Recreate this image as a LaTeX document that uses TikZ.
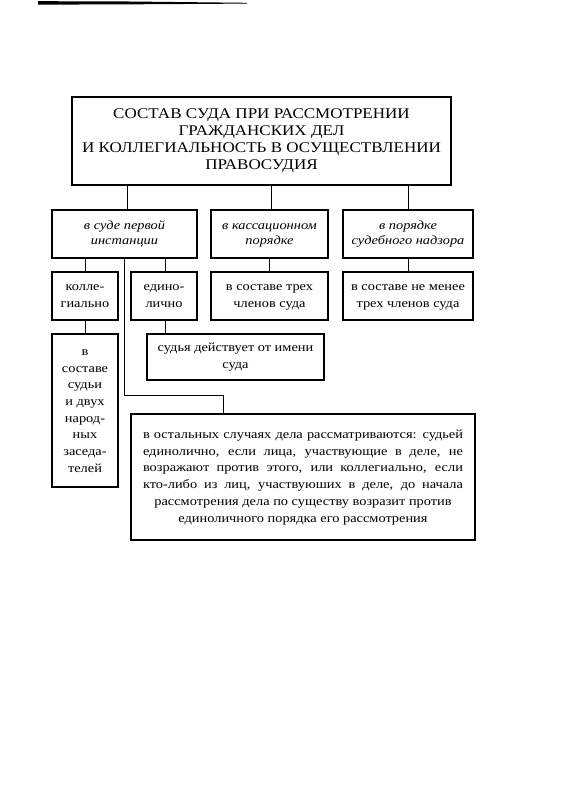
\documentclass[tikz,border=0pt]{standalone}
\usepackage{fontspec}
\setmainfont{Liberation Serif}[FakeStretch=1.15]
\begin{document}
\begin{tikzpicture}[x=1pt,y=-1pt,
  box/.style={draw,line width=1.7pt,inner sep=0pt,align=center},
  conn/.style={line width=0.8pt},
  ttl/.style={font=\fontsize{14.8}{17}\selectfont},
  hdr/.style={font=\fontsize{12.5}{15}\selectfont\itshape},
  txt/.style={font=\fontsize{12.5}{16.7}\selectfont}]
\useasboundingbox (0,0) rectangle (573,803);
\fill (38,1.2) -- (120,1.4) -- (247,2.8) -- (247,3.6) -- (120,4.4) -- (38,4.6) -- cycle;
\node[box,ttl,minimum width=379,minimum height=88] (title) at (261.5,141)
  {\strut СОСТАВ СУДА ПРИ РАССМОТРЕНИИ\\ГРАЖДАНСКИХ ДЕЛ\\И КОЛЛЕГИАЛЬНОСТЬ В ОСУЩЕСТВЛЕНИИ\\ПРАВОСУДИЯ\strut};
\node[box,hdr,minimum width=145,minimum height=48] (a1) at (124.5,234) {\strut в суде первой\\инстанции\strut};
\node[box,hdr,minimum width=117,minimum height=48] (a2) at (269.5,234) {\strut в кассационном\\порядке\strut};
\node[box,hdr,minimum width=130,minimum height=48] (a3) at (408,234) {\strut в порядке\\судебного надзора\strut};
\node[box,txt,minimum width=66,minimum height=48] (b1) at (85,296) {\strut колле-\\гиально\strut};
\node[box,txt,minimum width=66,minimum height=48] (b2) at (164,296) {\strut едино-\\лично\strut};
\node[box,txt,minimum width=117,minimum height=48] (b3) at (269.5,296) {\strut в составе трех\\членов суда\strut};
\node[box,txt,minimum width=130,minimum height=48] (b4) at (408,296) {\strut в составе не менее\\трех членов суда\strut};
\node[box,txt,minimum width=66,minimum height=153] (c1) at (85,410.5) {\strut в\\составе\\судьи\\и двух\\народ-\\ных\\заседа-\\телей\strut};
\node[box,txt,minimum width=177,minimum height=46] (c2) at (235.5,357) {\strut судья действует от имени\\суда\strut};
\node[box,txt,minimum width=344,minimum height=126] (d) at (303,477)
  {\makebox[320pt][s]{\strut в остальных случаях дела рассматриваются: судьей}\\
   \makebox[320pt][s]{единолично, если лица, участвующие в деле, не}\\
   \makebox[320pt][s]{возражают против этого, или коллегиально, если}\\
   \makebox[320pt][s]{кто-либо из лиц, участвуюших в деле, до начала}\\
   рассмотрения дела по существу возразит против\\
   единоличного порядка его рассмотрения\strut};
\draw[conn] ([xshift=2.5]a1.north) -- ([xshift=2.5]a1.north |- title.south);
\draw[conn] ([xshift=1.5]a2.north) -- ([xshift=1.5]a2.north |- title.south);
\draw[conn] (a3.north) -- (a3.north |- title.south);
\draw[conn] (b1.north) -- (b1.north |- a1.south);
\draw[conn] ([xshift=1]b2.north) -- ([xshift=1]b2.north |- a1.south);
\draw[conn] (b3.north) -- (a2.south);
\draw[conn] (b4.north) -- (a3.south);
\draw[conn] (c1.north) -- (b1.south);
\draw[conn] ([xshift=1]b2.south) -- ([xshift=1]b2.south |- c2.north);
\draw[conn] (a1.south) -- ++(0,137) -| ([xshift=-80]d.north);
\end{tikzpicture}
\end{document}
